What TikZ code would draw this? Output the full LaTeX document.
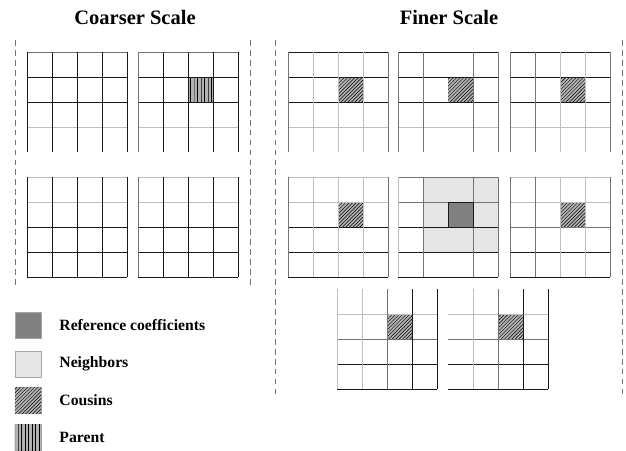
\documentclass[tikz,border=0pt]{standalone}
\usepackage{fontspec}
\setmainfont{Liberation Serif}
\usetikzlibrary{patterns,positioning}

\tikzset{
	light/.style={draw=black!25, line width=0.6pt},
	mid/.style={draw=black!55, line width=0.6pt},
	dark/.style={draw=black!90, line width=0.8pt},
	sep/.style={draw=black!55, dash pattern=on 5pt off 3.5pt, line width=0.6pt},
	cousin/.style={fill=black!30, postaction={pattern=north east lines}},
	parent/.style={fill=black!30, postaction={pattern=vertical lines}},
	refcell/.style={fill=black!50},
	nbcell/.style={fill=black!10},
	key/.style={draw=black!35, line width=0.5pt, minimum size=0.78cm, inner sep=0pt},
	keytext/.style={font=\bfseries\fontsize{13.4}{15}\selectfont},
	title/.style={font=\bfseries\fontsize{17.5}{20}\selectfont}
}

% one 4x4 block: corner x, corner y, horizontal lines, vertical lines
\newcommand{\cellgrid}[4]{%
	\foreach \i/\s in {#3} \draw[\s] (#1,#2+25*\i) -- ++(100,0);
	\foreach \i/\s in {#4} \draw[\s] (#1+25*\i,#2) -- ++(0,100);
}

\begin{document}
\begin{tikzpicture}[x=0.03cm, y=-0.03cm]
	\useasboundingbox (0,0) rectangle (626,450);

	\node[title] (t1) at (135,17) {Coarser Scale};
	\node[title] (t2) at (449,17) {Finer Scale};

	\coordinate (s1) at (15,40);  \coordinate (s1e) at (15,287);
	\coordinate (s2) at (250,40); \coordinate (s2e) at (250,287);
	\coordinate (s3) at (275,40); \coordinate (s3e) at (275,397);
	\coordinate (s4) at (622,40); \coordinate (s4e) at (622,397);
	\path[sep] (s1) -- (s1e);
	\path[sep] (s2) -- (s2e);
	\path[sep] (s3) -- (s3e);
	\path[sep] (s4) -- (s4e);

	% filled cells
	\fill[parent] (188,77) rectangle ++(25,25);
	\fill[cousin] (338,77) rectangle ++(25,25);
	\fill[cousin] (448,77) rectangle ++(25,25);
	\fill[cousin] (560,77) rectangle ++(25,25);
	\fill[cousin] (338,202) rectangle ++(25,25);
	\fill[nbcell] (423,177) rectangle ++(75,75);
	\fill[refcell] (448,202) rectangle ++(25,25);
	\fill[cousin] (560,202) rectangle ++(25,25);
	\fill[cousin] (387,314) rectangle ++(25,25);
	\fill[cousin] (498,314) rectangle ++(25,25);

	% coarser scale
	\cellgrid{27}{52}{0/mid,1/dark,2/dark,3/light}{0/dark,1/dark,2/dark,3/dark,4/dark}
	\cellgrid{138}{52}{0/mid,1/dark,2/dark,3/light}{0/mid,1/dark,2/dark,3/dark,4/dark}
	\cellgrid{27}{177}{0/light,1/light,2/dark,3/dark,4/dark}{0/dark,1/dark,2/dark,3/dark,4/dark}
	\cellgrid{138}{177}{0/light,1/light,2/dark,3/dark,4/dark}{0/mid,1/dark,2/dark,3/dark,4/dark}
	\draw[dark] (188,77) rectangle ++(25,25);

	% finer scale
	\cellgrid{288}{52}{0/dark,1/dark,2/dark,3/light}{0/mid,1/light,2/light,3/light,4/mid}
	\cellgrid{398}{52}{0/dark,1/dark,2/dark,3/light}{0/mid,1/mid,3/mid,4/mid}
	\cellgrid{510}{52}{0/dark,1/dark,2/dark,3/light}{0/mid,1/mid,2/light,3/light,4/mid}
	\cellgrid{288}{177}{0/light,1/light,2/dark,3/dark,4/dark}{0/mid,1/light,2/light,3/light,4/mid}
	\cellgrid{398}{177}{0/mid,1/mid,2/dark,3/dark,4/dark}{0/light,1/mid,3/mid,4/mid}
	\cellgrid{510}{177}{0/light,1/light,2/mid,3/dark,4/dark}{0/mid,1/mid,2/light,3/light,4/mid}
	\draw[dark] (448,202) rectangle ++(25,25);
	\cellgrid{337}{289}{1/light,2/mid,3/dark,4/dark}{0/light,1/light,2/mid,3/dark,4/dark}
	\cellgrid{448}{289}{1/light,2/mid,3/dark,4/dark}{1/light,2/mid,3/dark,4/dark}

	% legend
	\node[key, refcell] (k1) at (28,325.5) {};
	\node[key, nbcell] (k2) at (28,364) {};
	\node[key, cousin] (k3) at (28,400.5) {};
	\node[key, parent] (k4) at (28,437.5) {};
	\node[keytext, right=0.42cm of k1] (l1) {Reference coefficients};
	\node[keytext, right=0.42cm of k2] (l2) {Neighbors};
	\node[keytext, right=0.42cm of k3] (l3) {Cousins};
	\node[keytext, right=0.42cm of k4] (l4) {Parent};
\end{tikzpicture}
\end{document}
